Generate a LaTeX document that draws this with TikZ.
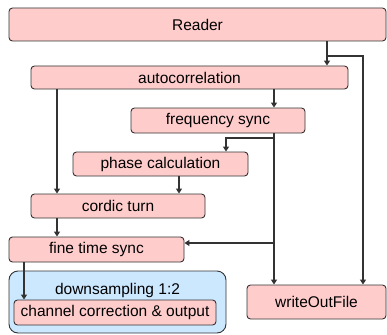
\documentclass[tikz,border=0pt]{standalone}
\usepackage{fontspec}
\setmainfont{Liberation Sans}
\usetikzlibrary{arrows.meta}
\definecolor{pinkfill}{HTML}{FFCCCC}
\definecolor{bluefill}{HTML}{CCE8FF}
\definecolor{edge}{HTML}{333333}
\begin{document}
\begin{tikzpicture}[x=1pt,y=-1pt,
  box/.style={draw=edge,line width=0.9pt,fill=pinkfill,rounded corners=3.5pt,inner sep=0pt,
    font=\fontsize{15.5}{18}\selectfont},
  arr/.style={draw=edge,line width=1.2pt,-{Triangle[width=6pt,length=5pt]}},
  ln/.style={draw=edge,line width=1.2pt}]
\useasboundingbox (0,0) rectangle (387,334);
\node[box,minimum width=377pt,minimum height=33pt] (reader) at (197.5,24.5) {Reader};
\node[box,minimum width=317pt,minimum height=23pt] (auto) at (189.5,77.5) {autocorrelation};
\node[box,minimum width=174pt,minimum height=25pt] (freq) at (218,120.5) {frequency sync};
\node[box,minimum width=175pt,minimum height=24pt] (phase) at (160.5,164) {phase calculation};
\node[box,minimum width=174pt,minimum height=24pt] (cordic) at (118,206) {cordic turn};
\node[box,minimum width=175pt,minimum height=25pt] (fine) at (96.5,249.5) {fine time sync};
\node[draw=edge,line width=0.9pt,fill=bluefill,rounded corners=9pt,minimum width=217pt,minimum height=62pt] (down) at (117.5,302) {};
\node[font=\fontsize{15.5}{18}\selectfont] (downlbl) at (117.5,290.5) {downsampling 1:2};
\node[box,minimum width=202pt,minimum height=25pt] (chan) at (115,312.5) {channel correction \& output};
\node[box,minimum width=139pt,minimum height=34pt] (write) at (316.5,302) {writeOutFile};
\coordinate (j1) at (327,56);
\coordinate (j2) at (274,138);
\coordinate (j3) at (274,243);
\draw[arr] (reader.south -| j1) -- (auto.north -| j1);
\draw[arr] (j1) -| (write.north -| 363,0);
\draw[arr] (auto.south -| j2) -- (freq.north -| j2);
\draw[arr] (freq.south -| j2) -- (write.north -| j2);
\draw[arr] (j2) -| (phase.north -| 226,0);
\draw[arr] (j3) -- (fine.east |- j3);
\draw[arr] (phase.south -| 179,0) -- (cordic.north -| 179,0);
\draw[arr] (auto.south -| 57,0) -- (cordic.north -| 57,0);
\draw[arr] (cordic.south -| 57,0) -- (fine.north -| 57,0);
\draw[arr] (fine.south -| 24,0) -- (chan.north -| 24,0);
\end{tikzpicture}
\end{document}
